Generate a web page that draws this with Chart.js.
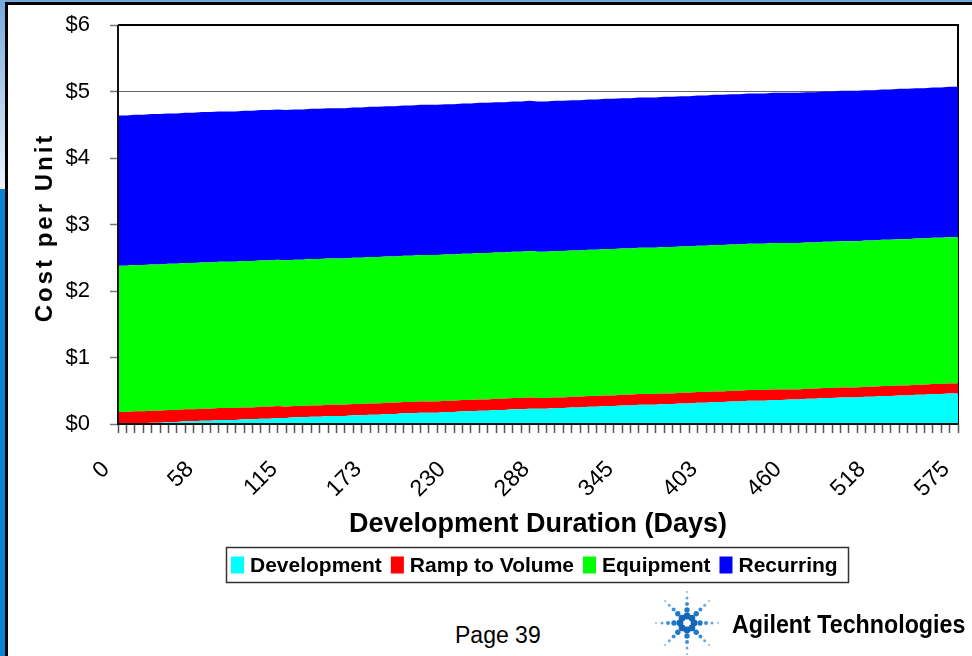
<!DOCTYPE html>
<html>
<head>
<meta charset="utf-8">
<script src="https://cdn.jsdelivr.net/npm/chart.js@4/dist/chart.umd.min.js"></script>
<style>
  html, body { margin: 0; padding: 0; background: #fff; }
  body { width: 972px; height: 656px; position: relative; overflow: hidden; font-family: "Liberation Sans", Arial, sans-serif; }
  .strip-top { position: absolute; left: 0; top: 0; width: 972px; height: 2px; background: #74a9dc; }
  .rule-top { position: absolute; left: 5px; top: 2px; width: 967px; height: 3px; background: #000; }
  .strip-left-a { position: absolute; left: 0; top: 0; width: 5px; height: 189px; background: linear-gradient(#74a9dc, #eef4fb); }
  .strip-left-b { position: absolute; left: 0; top: 189px; width: 5px; height: 467px; background: #0a82d2; }
  .rule-left { position: absolute; left: 5px; top: 2px; width: 3px; height: 654px; background: #000; }
  #wrap { position: absolute; left: 8px; top: 5px; width: 964px; height: 590px; }
  .page { position: absolute; left: 455px; top: 622px; font-size: 23px; color: #000; }
  .brand { position: absolute; left: 732px; top: 610px; font-size: 25px; font-weight: bold; color: #000;
           transform: scaleX(0.93); transform-origin: left top; white-space: nowrap; }
  .logo { position: absolute; left: 650px; top: 587px; }
</style>
</head>
<body>
<div class="strip-top"></div>
<div class="strip-left-a"></div>
<div class="strip-left-b"></div>
<div class="rule-top"></div>
<div class="rule-left"></div>
<div id="wrap"><canvas id="c" width="964" height="590"></canvas></div>
<div class="page">Page 39</div>
<svg class="logo" width="74" height="68" viewBox="0 0 74 68" id="logo"></svg>
<div class="brand">Agilent Technologies</div>

<script>
// Development duration in days for each point on the category axis
const days = [
  0, 5.75, 11.5, 17.25, 23, 28.75, 34.5, 40.25, 46, 51.75,
  57.5, 63.25, 69, 74.75, 80.5, 86.25, 92, 97.75, 103.5, 109.25,
  115, 120.75, 126.5, 132.25, 138, 143.75, 149.5, 155.25, 161, 166.75,
  172.5, 178.25, 184, 189.75, 195.5, 201.25, 207, 212.75, 218.5, 224.25,
  230, 235.75, 241.5, 247.25, 253, 258.75, 264.5, 270.25, 276, 281.75,
  287.5, 293.25, 299, 304.75, 310.5, 316.25, 322, 327.75, 333.5, 339.25,
  345, 350.75, 356.5, 362.25, 368, 373.75, 379.5, 385.25, 391, 396.75,
  402.5, 408.25, 414, 419.75, 425.5, 431.25, 437, 442.75, 448.5, 454.25,
  460, 465.75, 471.5, 477.25, 483, 488.75, 494.5, 500.25, 506, 511.75,
  517.5, 523.25, 529, 534.75, 540.5, 546.25, 552, 557.75, 563.5, 569.25,
  575
];

// Labels printed on every tenth category
const tickLabels = ['0', '58', '115', '173', '230', '288', '345', '403', '460', '518', '575'];

const yTickLabels = ['$0', '$1', '$2', '$3', '$4', '$5', '$6'];

// Cost per unit components ($)
const development = [
  0.00, 0.00, 0.01, 0.01, 0.02, 0.02, 0.03, 0.03, 0.04, 0.04,
  0.05, 0.05, 0.06, 0.06, 0.06, 0.07, 0.07, 0.08, 0.08, 0.09,
  0.09, 0.10, 0.10, 0.11, 0.11, 0.12, 0.12, 0.12, 0.13, 0.13,
  0.14, 0.14, 0.15, 0.15, 0.16, 0.16, 0.17, 0.17, 0.17, 0.18,
  0.18, 0.19, 0.19, 0.20, 0.20, 0.21, 0.21, 0.22, 0.22, 0.23,
  0.23, 0.23, 0.24, 0.24, 0.25, 0.25, 0.26, 0.26, 0.27, 0.27,
  0.28, 0.28, 0.29, 0.29, 0.29, 0.30, 0.30, 0.31, 0.31, 0.32,
  0.32, 0.33, 0.33, 0.34, 0.34, 0.35, 0.35, 0.35, 0.36, 0.36,
  0.37, 0.37, 0.38, 0.38, 0.39, 0.39, 0.40, 0.40, 0.40, 0.41,
  0.41, 0.42, 0.42, 0.43, 0.43, 0.44, 0.44, 0.45, 0.45, 0.46,
  0.46
];

const rampToVolume = [
  0.18, 0.18, 0.18, 0.18, 0.18, 0.18, 0.18, 0.18, 0.18, 0.18,
  0.18, 0.18, 0.18, 0.18, 0.18, 0.18, 0.18, 0.18, 0.18, 0.18,
  0.17, 0.17, 0.17, 0.17, 0.17, 0.17, 0.17, 0.17, 0.17, 0.17,
  0.17, 0.17, 0.17, 0.17, 0.17, 0.17, 0.17, 0.17, 0.17, 0.17,
  0.17, 0.17, 0.17, 0.17, 0.17, 0.17, 0.17, 0.17, 0.17, 0.17,
  0.16, 0.16, 0.16, 0.16, 0.16, 0.16, 0.16, 0.16, 0.16, 0.16,
  0.16, 0.16, 0.16, 0.16, 0.16, 0.16, 0.16, 0.16, 0.16, 0.16,
  0.16, 0.16, 0.16, 0.16, 0.16, 0.16, 0.16, 0.16, 0.16, 0.16,
  0.15, 0.15, 0.15, 0.15, 0.15, 0.15, 0.15, 0.15, 0.15, 0.15,
  0.15, 0.15, 0.15, 0.15, 0.15, 0.15, 0.15, 0.15, 0.15, 0.15,
  0.15
];

const equipment = [
  2.20, 2.20, 2.20, 2.20, 2.20, 2.20, 2.20, 2.20, 2.20, 2.20,
  2.20, 2.20, 2.20, 2.20, 2.20, 2.20, 2.20, 2.20, 2.20, 2.20,
  2.20, 2.20, 2.20, 2.20, 2.20, 2.20, 2.20, 2.20, 2.20, 2.20,
  2.20, 2.20, 2.20, 2.20, 2.20, 2.20, 2.20, 2.20, 2.20, 2.20,
  2.20, 2.20, 2.20, 2.20, 2.20, 2.20, 2.20, 2.20, 2.20, 2.20,
  2.20, 2.20, 2.20, 2.20, 2.20, 2.20, 2.20, 2.20, 2.20, 2.20,
  2.20, 2.20, 2.20, 2.20, 2.20, 2.20, 2.20, 2.20, 2.20, 2.20,
  2.20, 2.20, 2.20, 2.20, 2.20, 2.20, 2.20, 2.20, 2.20, 2.20,
  2.20, 2.20, 2.20, 2.20, 2.20, 2.20, 2.20, 2.20, 2.20, 2.20,
  2.20, 2.20, 2.20, 2.20, 2.20, 2.20, 2.20, 2.20, 2.20, 2.20,
  2.20
];

const recurring = [
  2.26, 2.26, 2.26, 2.26, 2.26, 2.26, 2.26, 2.26, 2.26, 2.26,
  2.26, 2.26, 2.26, 2.26, 2.26, 2.26, 2.26, 2.26, 2.26, 2.26,
  2.26, 2.26, 2.26, 2.26, 2.26, 2.26, 2.26, 2.26, 2.26, 2.26,
  2.26, 2.26, 2.26, 2.26, 2.26, 2.26, 2.26, 2.26, 2.26, 2.26,
  2.26, 2.26, 2.26, 2.26, 2.26, 2.26, 2.26, 2.26, 2.26, 2.26,
  2.26, 2.26, 2.26, 2.26, 2.26, 2.26, 2.26, 2.26, 2.26, 2.26,
  2.26, 2.26, 2.26, 2.26, 2.26, 2.26, 2.26, 2.26, 2.26, 2.26,
  2.26, 2.26, 2.26, 2.26, 2.26, 2.26, 2.26, 2.26, 2.26, 2.26,
  2.26, 2.26, 2.26, 2.26, 2.26, 2.26, 2.26, 2.26, 2.26, 2.26,
  2.26, 2.26, 2.26, 2.26, 2.26, 2.26, 2.26, 2.26, 2.26, 2.26,
  2.26
];

const FONT = '"Liberation Sans", Arial, sans-serif';

// Top and right edges of the plot frame, beneath the filled areas
const frameBehind = {
  id: 'frameBehind',
  beforeDatasetsDraw(chart) {
    const { ctx, chartArea: a } = chart;
    ctx.save();
    ctx.strokeStyle = '#000';
    ctx.lineWidth = 2;
    ctx.beginPath();
    ctx.moveTo(a.left, a.top);
    ctx.lineTo(a.right, a.top);
    ctx.lineTo(a.right, a.bottom);
    ctx.stroke();
    ctx.restore();
  }
};

// Left and bottom axis lines on top of the fills
const axisLines = {
  id: 'axisLines',
  afterDatasetsDraw(chart) {
    const { ctx, chartArea: a } = chart;
    ctx.save();
    ctx.strokeStyle = '#111';
    ctx.lineWidth = 2;
    ctx.beginPath();
    ctx.moveTo(a.left, a.top);
    ctx.lineTo(a.left, a.bottom);
    ctx.lineTo(a.right, a.bottom);
    ctx.stroke();
    ctx.restore();
  }
};

// Spaced-out vertical title for the value axis
const yTitle = {
  id: 'yTitle',
  afterDraw(chart) {
    const { ctx, chartArea: a } = chart;
    ctx.save();
    ctx.translate(37, (a.top + a.bottom) / 2 + 3);
    ctx.rotate(-Math.PI / 2);
    ctx.font = 'bold 24px ' + FONT;
    ctx.fillStyle = '#000';
    ctx.textAlign = 'center';
    ctx.textBaseline = 'middle';
    if ('letterSpacing' in ctx) ctx.letterSpacing = '3px';
    ctx.fillText('Cost per Unit', 0, 0);
    ctx.restore();
  }
};

// Boxed legend row under the axis title, built from the datasets
const boxedLegend = {
  id: 'boxedLegend',
  afterDraw(chart) {
    const { ctx, chartArea: a } = chart;
    const sets = chart.data.datasets;
    const boxW = 13, boxH = 17, gapIn = 6, gapOut = 9;
    ctx.save();
    ctx.font = 'bold 21px ' + FONT;
    const widths = sets.map(d => ctx.measureText(d.label).width);
    const total = widths.reduce((s, w) => s + boxW + gapIn + w, 0) + gapOut * (sets.length - 1);
    const cx = (a.left + a.right) / 2 - 4;
    let x = Math.round(cx - total / 2);
    const top = a.bottom + 123;
    const mid = top + 18;
    ctx.strokeStyle = '#333';
    ctx.lineWidth = 1.5;
    ctx.strokeRect(x - 5 + 0.5, top + 0.5, Math.round(total + 15), 35);
    ctx.textBaseline = 'middle';
    ctx.textAlign = 'left';
    sets.forEach((d, i) => {
      ctx.fillStyle = d.backgroundColor;
      ctx.fillRect(x, mid - boxH / 2, boxW, boxH);
      x += boxW + gapIn;
      ctx.fillStyle = '#000';
      ctx.fillText(d.label, x, mid + 1);
      x += widths[i] + gapOut;
    });
    ctx.restore();
  }
};

const series = [
  { label: 'Development', data: development, color: '#00ffff', fill: 'origin' },
  { label: 'Ramp to Volume', data: rampToVolume, color: '#ff0000', fill: '-1' },
  { label: 'Equipment', data: equipment, color: '#00ff00', fill: '-1' },
  { label: 'Recurring', data: recurring, color: '#0000ff', fill: '-1' }
];

new Chart(document.getElementById('c'), {
  type: 'line',
  data: {
    labels: days,
    datasets: series.map(s => ({
      label: s.label,
      data: s.data,
      backgroundColor: s.color,
      borderColor: s.color,
      borderWidth: 0,
      pointRadius: 0,
      fill: s.fill,
      tension: 0
    }))
  },
  options: {
    responsive: false,
    devicePixelRatio: 1,
    animation: false,
    layout: { padding: { top: 20, right: 0, left: 0, bottom: 54 } },
    plugins: {
      tooltip: { enabled: false },
      legend: { display: false }
    },
    scales: {
      x: {
        type: 'category',
        offset: false,
        grid: { display: true, drawOnChartArea: false, drawTicks: true, tickLength: 9, color: '#555', tickWidth: 1.5 },
        border: { display: false },
        ticks: {
          autoSkip: false,
          minRotation: 45,
          maxRotation: 45,
          padding: 23,
          labelOffset: -12,
          color: '#000',
          font: { family: FONT, size: 23 },
          callback: (v, i) => (i % 10 === 0 ? tickLabels[i / 10] : '')
        },
        title: {
          display: true,
          text: 'Development Duration (Days)',
          color: '#000',
          font: { family: FONT, size: 27, weight: 'bold' },
          padding: { top: 0, bottom: 0 }
        },
        afterFit(scale) {
          scale.height = 117;
          scale.paddingRight = 14;
          scale.paddingTop = 0;
          scale.paddingBottom = 0;
        }
      },
      y: {
        stacked: true,
        min: 0,
        max: 6,
        grid: { color: '#666', lineWidth: 1, tickLength: 8, tickColor: '#777', tickWidth: 1.5 },
        border: { display: false },
        ticks: {
          stepSize: 1,
          padding: 20,
          color: '#000',
          font: { family: FONT, size: 22 },
          callback: v => yTickLabels[v]
        },
        afterFit(scale) {
          scale.width = 110;
          scale.paddingTop = 0;
          scale.paddingBottom = 0;
        }
      }
    }
  },
  plugins: [frameBehind, axisLines, yTitle, boxedLegend]
});

// Starburst logo: dots along eight rays, shrinking and fading outward
(function () {
  const svg = document.getElementById('logo');
  const cx = 37, cy = 36;
  const rings = [
    { d: 7, r: 3.4, c: '#1565b8' },
    { d: 13, r: 2.7, c: '#1f78c8' },
    { d: 19, r: 2.0, c: '#3b8fd6' },
    { d: 25, r: 1.5, c: '#67a9df' },
    { d: 31, r: 1.1, c: '#92c2e8' }
  ];
  let out = '';
  for (let k = 0; k < 8; k++) {
    const ang = k * Math.PI / 4;
    rings.forEach(g => {
      const x = cx + Math.cos(ang) * g.d, y = cy + Math.sin(ang) * g.d;
      out += '<circle cx="' + x.toFixed(1) + '" cy="' + y.toFixed(1) + '" r="' + g.r + '" fill="' + g.c + '"/>';
    });
  }
  svg.innerHTML = out;
})();
</script>
</body>
</html>
